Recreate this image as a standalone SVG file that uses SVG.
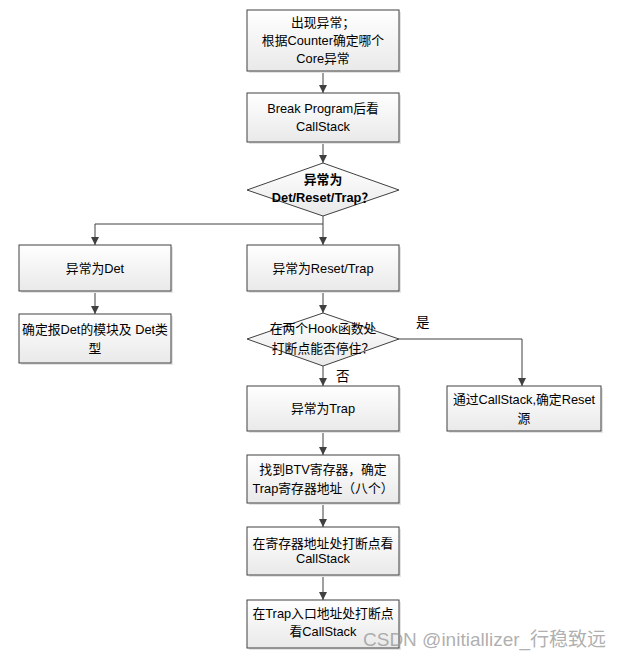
<svg xmlns="http://www.w3.org/2000/svg" width="621" height="658" viewBox="0 0 621 658">
<defs>
<linearGradient id="g" x1="0" y1="0" x2="0" y2="1">
<stop offset="0" stop-color="#ffffff"/>
<stop offset="1" stop-color="#e9e9e9"/>
</linearGradient>
<marker id="ah" viewBox="0 0 10 10" refX="10" refY="5" markerWidth="8" markerHeight="8" markerUnits="userSpaceOnUse" orient="auto">
<path d="M0,0 L10,5 L0,10 z" fill="#404040"/>
</marker>
</defs>
<style>
.b{fill:url(#g);stroke:#404040;stroke-width:1}
.s{fill:#e4e4e4;stroke:none}
.t{font-family:"Liberation Sans","Noto Sans CJK SC",sans-serif;font-size:12.8px;fill:#000;text-anchor:middle}
.bd{font-weight:bold}
.c{fill:none;stroke:#404040;stroke-width:1}
.l{font-family:"Liberation Sans","Noto Sans CJK SC",sans-serif;font-size:13.5px;fill:#000}
.w{font-family:"Liberation Sans","Noto Sans CJK SC",sans-serif;font-size:19px;fill:#9a9a9a;fill-opacity:0.8}
</style>
<rect width="621" height="658" fill="#ffffff"/>
<g id="connectors">
<path class="c" d="M323,71 V93" marker-end="url(#ah)"/>
<path class="c" d="M323,142 V163" marker-end="url(#ah)"/>
<path class="c" d="M323,216 V245" marker-end="url(#ah)"/>
<path class="c" d="M323,224 H95 V245" marker-end="url(#ah)"/>
<path class="c" d="M95,291 V314" marker-end="url(#ah)"/>
<path class="c" d="M323,291 V313" marker-end="url(#ah)"/>
<path class="c" d="M399,339 H522 V386" marker-end="url(#ah)"/>
<path class="c" d="M323,366 V386" marker-end="url(#ah)"/>
<path class="c" d="M323,431 V455" marker-end="url(#ah)"/>
<path class="c" d="M323,503 V527" marker-end="url(#ah)"/>
<path class="c" d="M323,575 V600" marker-end="url(#ah)"/>
<text class="l" x="416" y="327">是</text>
<text class="l" x="336" y="381">否</text>
</g>
<g id="n1">
<rect class="s" x="249" y="12" width="152" height="61"/>
<rect class="b" x="247" y="10" width="152" height="61"/>
<text class="t" x="323" y="27">出现异常；</text>
<text class="t" x="323" y="45">根据Counter确定哪个</text>
<text class="t" x="323" y="63">Core异常</text>
</g>
<g id="n2">
<rect class="s" x="249" y="95" width="152" height="49"/>
<rect class="b" x="247" y="93" width="152" height="49"/>
<text class="t" x="323" y="113">Break Program后看</text>
<text class="t" x="323" y="131">CallStack</text>
</g>
<g id="d1">
<polygon class="b" points="323,163 399,190 323,216 247,190"/>
<text class="t bd" x="323" y="184">异常为</text>
<text class="t bd" x="323" y="202">Det/Reset/Trap？</text>
</g>
<g id="n3">
<rect class="s" x="21" y="247" width="152" height="46"/>
<rect class="b" x="19" y="245" width="152" height="46"/>
<text class="t" x="95" y="273">异常为Det</text>
</g>
<g id="n4">
<rect class="s" x="249" y="247" width="152" height="46"/>
<rect class="b" x="247" y="245" width="152" height="46"/>
<text class="t" x="323" y="273">异常为Reset/Trap</text>
</g>
<g id="n5">
<rect class="s" x="21" y="316" width="152" height="49"/>
<rect class="b" x="19" y="314" width="152" height="49"/>
<text class="t" x="95" y="334">确定报Det的模块及 Det类</text>
<text class="t" x="95" y="353">型</text>
</g>
<g id="d2">
<polygon class="b" points="323,313 399,339 323,366 247,339"/>
<text class="t" x="323" y="333">在两个Hook函数处</text>
<text class="t" x="323" y="353">打断点能否停住？</text>
</g>
<g id="n6">
<rect class="s" x="249" y="388" width="152" height="45"/>
<rect class="b" x="247" y="386" width="152" height="45"/>
<text class="t" x="323" y="413">异常为Trap</text>
</g>
<g id="n7">
<rect class="s" x="449" y="388" width="154" height="45"/>
<rect class="b" x="447" y="386" width="154" height="45"/>
<text class="t" x="524" y="404">通过CallStack,确定Reset</text>
<text class="t" x="524" y="423">源</text>
</g>
<g id="n8">
<rect class="s" x="249" y="457" width="152" height="48"/>
<rect class="b" x="247" y="455" width="152" height="48"/>
<text class="t" x="323" y="474">找到BTV寄存器，确定</text>
<text class="t" x="323" y="493">Trap寄存器地址（八个）</text>
</g>
<g id="n9">
<rect class="s" x="249" y="529" width="152" height="48"/>
<rect class="b" x="247" y="527" width="152" height="48"/>
<text class="t" x="323" y="548">在寄存器地址处打断点看</text>
<text class="t" x="323" y="563">CallStack</text>
</g>
<g id="n10">
<rect class="s" x="249" y="602" width="152" height="48"/>
<rect class="b" x="247" y="600" width="152" height="48"/>
<text class="t" x="323" y="618">在Trap入口地址处打断点</text>
<text class="t" x="323" y="636">看CallStack</text>
</g>
<text class="w" x="363" y="646">CSDN @initiallizer_行稳致远</text>
</svg>
